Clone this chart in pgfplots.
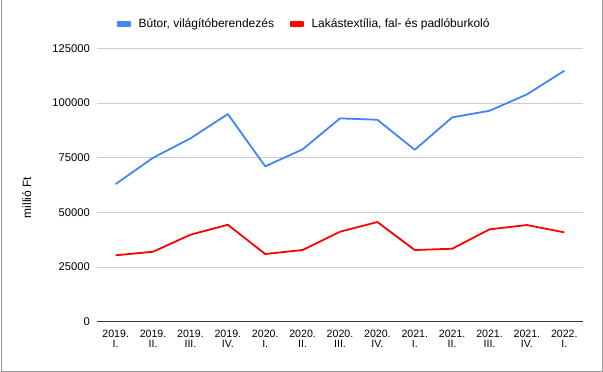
\documentclass[border=0pt]{standalone}
\usepackage{pgfplots}
\pgfplotsset{compat=1.18}
\usepackage{fontspec}
\setmainfont{Liberation Sans}
\definecolor{sblue}{HTML}{4285F4}
\definecolor{sred}{HTML}{FF0000}
\definecolor{gridc}{HTML}{CCCCCC}
\definecolor{framec}{HTML}{999999}
\begin{document}
\begin{tikzpicture}
\useasboundingbox (0pt,0pt) rectangle (603pt,372pt);
\draw[framec, line width=1pt] (1.5pt,372pt) -- (1.5pt,0.7pt) -- (602pt,0.7pt) -- (602pt,372pt);
\begin{axis}[
  at={(97pt,50.3pt)}, anchor=south west,
  scale only axis, width=486pt, height=273.4pt,
  xmin=-0.5, xmax=12.5, ymin=0, ymax=125000,
  axis line style={draw=none},
  major tick length=0pt,
  xtick={0,...,12},
  xticklabels={{2019.\\I.},{2019.\\II.},{2019.\\III.},{2019.\\IV.},{2020.\\I.},{2020.\\II.},{2020.\\III.},{2020.\\IV.},{2021.\\I.},{2021.\\II.},{2021.\\III.},{2021.\\IV.},{2022.\\I.}},
  xticklabel style={align=center, font=\fontsize{10.6}{10}\selectfont, inner sep=0pt, anchor=north, yshift=-8.5pt},
  ytick={25000,50000,75000,100000,125000},
  extra y ticks={0},
  extra y tick style={grid style={draw=black!80, line width=1pt}},
  ymajorgrids, grid style={draw=gridc, line width=0.8pt},
  yticklabel style={font=\fontsize{11.2}{12}\selectfont, inner sep=0pt, anchor=east, xshift=-7pt},
  /pgf/number format/fixed,
  /pgf/number format/precision=0,
  /pgf/number format/1000 sep={},
  /pgf/number format/assume math mode=true,
  scaled y ticks=false,
  ylabel={millió Ft},
  ylabel style={font=\fontsize{12}{12}\selectfont, at={(axis description cs:-0.1447,0.454)}, anchor=center, rotate=0},
  legend columns=2,
  legend style={at={(0.0405,1.089)}, anchor=west, draw=none, fill=none, inner sep=0pt,
    font=\fontsize{12}{12}\selectfont,
    nodes={inner sep=0pt},
    /tikz/every odd column/.append style={column sep=7.4pt},
    /tikz/every even column/.append style={column sep=15.6pt}},
  legend image code/.code={\fill (0pt,-2pt) rectangle (12.6pt,2pt);},
]
\addplot[sblue, line width=1.8pt, line join=round] coordinates {
(0,62934) (1,74954) (2,83820) (3,94927) (4,71024) (5,78793) (6,92962) (7,92322) (8,78611) (9,93419) (10,96435) (11,103930) (12,114717)};
\addlegendentry{Bútor, világítóberendezés}
\addplot[sred, line width=1.8pt, line join=round] coordinates {
(0,30347) (1,31993) (2,39762) (3,44333) (4,30941) (5,32770) (6,41133) (7,45567) (8,32770) (9,33364) (10,42230) (11,44196) (12,40859)};
\addlegendentry{Lakástextília, fal- és padlóburkoló}
\end{axis}
\end{tikzpicture}
\end{document}
